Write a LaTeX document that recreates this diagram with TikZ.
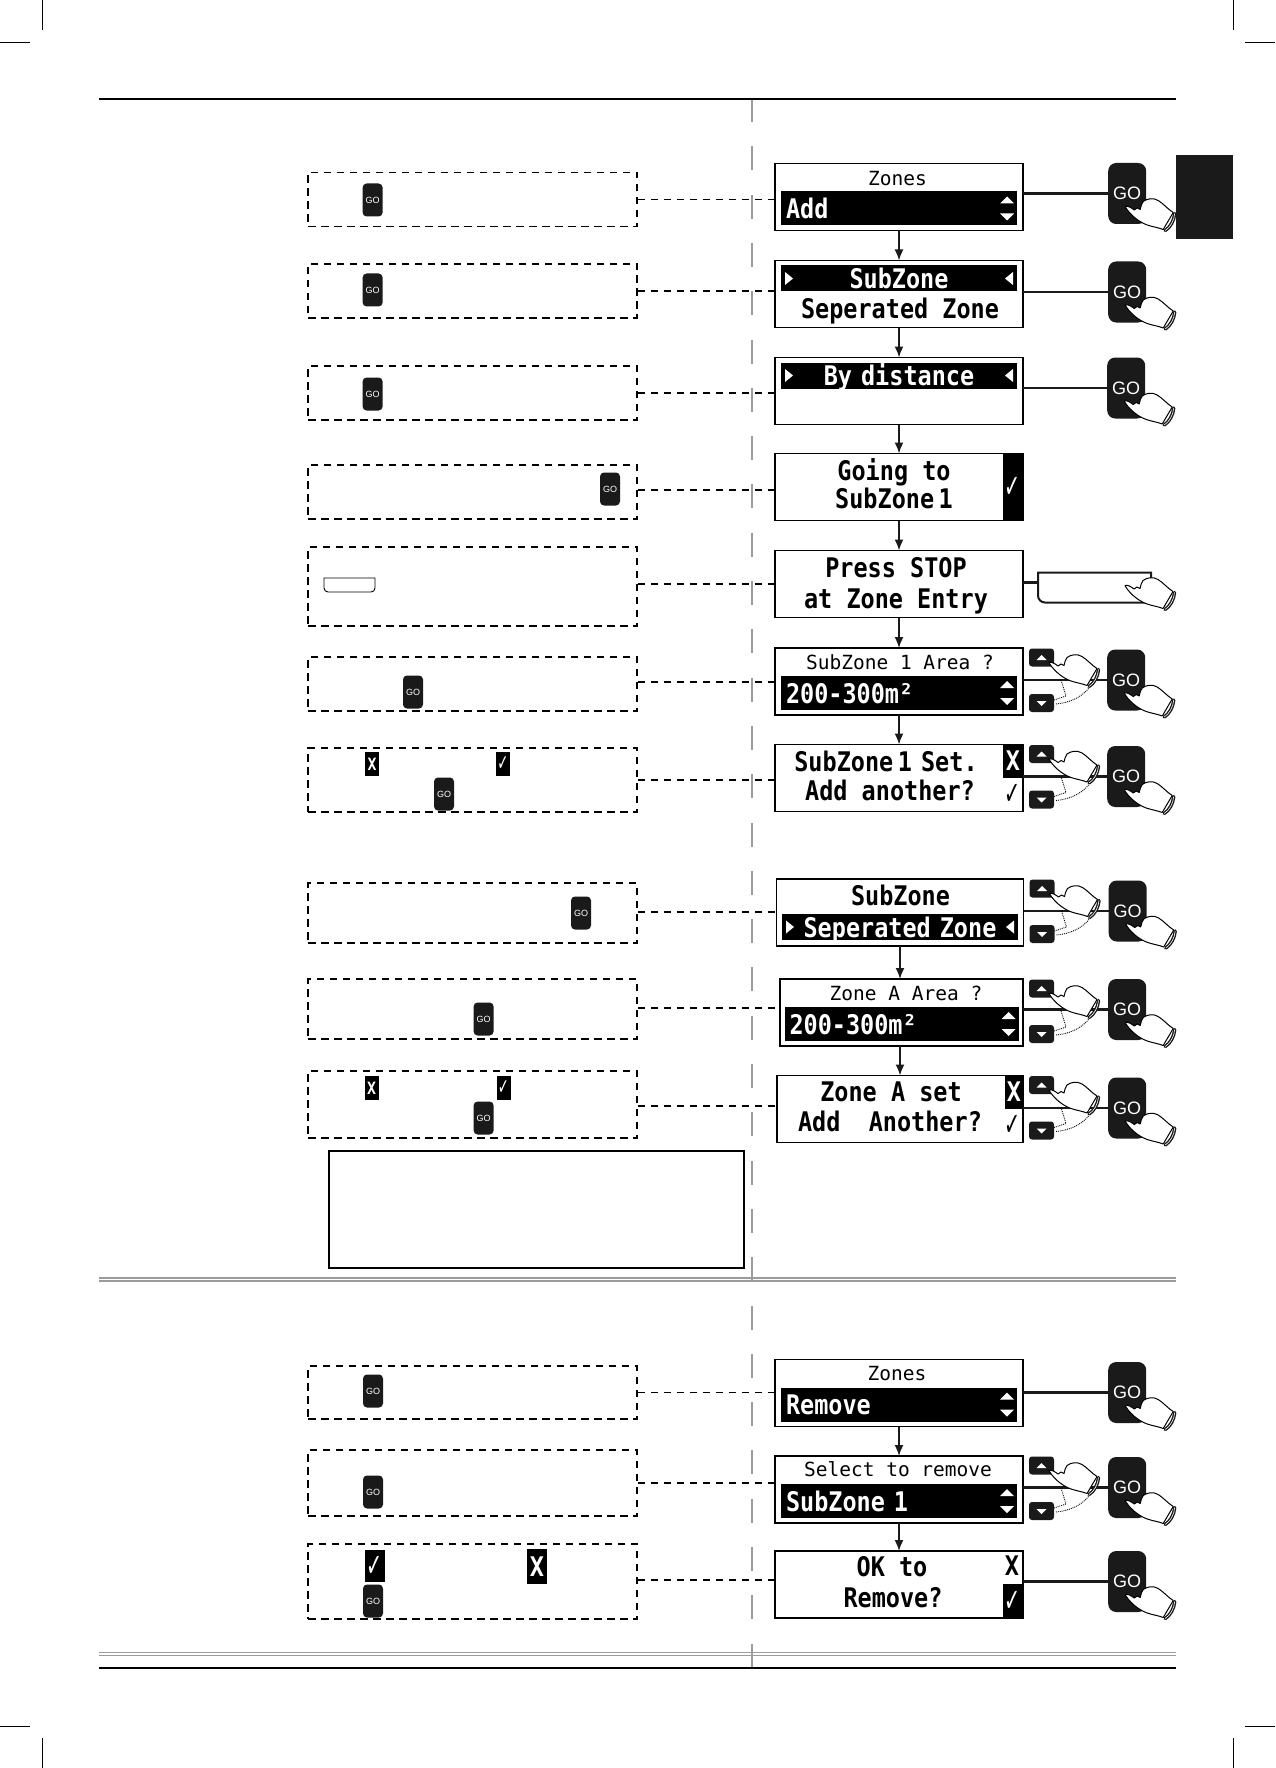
\documentclass[tikz,border=0pt]{standalone}
\usepackage{fontspec}
\usepackage{tikz}
\usetikzlibrary{arrows.meta, positioning, calc}
\newfontfamily\lcdfont[FakeStretch=0.87]{DejaVu Sans Mono}
\newfontfamily\titlefont{DejaVu Sans Mono}
\newfontfamily\tickfont[FakeStretch=0.6]{DejaVu Sans}
\newfontfamily\gofont{Liberation Sans}
\definecolor{panelblack}{RGB}{26,26,26}
\definecolor{rulegray}{RGB}{155,155,155}
\newcommand{\lcdbig}{\lcdfont\bfseries\fontsize{27}{30}\selectfont}
\newcommand{\lcdtitle}{\titlefont\fontsize{19.5}{22}\selectfont}

\begin{document}
\begin{tikzpicture}[
    x=1pt, y=-1pt,
    display/.style={rectangle, draw=black, line width=1.6pt, fill=white, inner sep=0pt, outer sep=0pt,
                    minimum width=248pt, minimum height=67pt},
    lowbar/.style={rectangle, fill=black, text=white, font=\lcdbig, inner xsep=5pt, inner ysep=0pt, outer sep=0pt,
                   text width=226pt, align=left, text height=20pt, text depth=0pt, minimum height=34pt},
    topbar/.style={lowbar, align=center, minimum height=26pt},
    lcd/.style={font=\lcdbig, anchor=mid, inner sep=0pt, yshift=-6.5pt},
    lcdsmall/.style={font=\lcdtitle, anchor=mid, inner sep=0pt, yshift=-4.5pt},
    panel/.style={rectangle, fill=black, text=white, font=\lcdbig, inner sep=0pt, outer sep=0pt,
                  minimum width=20pt, minimum height=33pt},
    tickmark/.style={font=\tickfont\fontsize{32}{32}\selectfont},
    gobtn/.style={rectangle, fill=panelblack, text=white, rounded corners=8pt, inner sep=0pt,
                  minimum width=38pt, minimum height=61pt, font=\gofont\fontsize{18}{18}\selectfont},
    gosmall/.style={rectangle, fill=panelblack, text=white, rounded corners=4pt, inner sep=0pt,
                    minimum width=20pt, minimum height=33pt, font=\gofont\fontsize{9}{9}\selectfont},
    keybtn/.style={rectangle, fill=panelblack, rounded corners=3pt, inner sep=0pt,
                   minimum width=25pt, minimum height=18pt},
    notebox/.style={rectangle, draw=black, line width=1.7pt, inner sep=0pt, minimum width=329pt,
                    dash pattern=on 7.5pt off 5.5pt},
    notemark/.style={rectangle, fill=black, text=white, inner sep=0pt, font=\lcdfont\bfseries\fontsize{17}{17}\selectfont,
                     minimum width=14pt, minimum height=24pt},
    stopshape/.style={inner sep=0pt, outer sep=0pt},
    arr/.style={-{Latex[length=11pt,width=9pt]}, line width=1.7pt, panelblack},
    link/.style={line width=2.4pt, panelblack},
    dashlink/.style={line width=1.5pt, black, dash pattern=on 7pt off 6pt},
    grayrule/.style={rulegray, line width=1.2pt},
    crop/.style={black, line width=0.8pt},
    updown/.pic={
        \fill[white] (-17,-5) -- (-10,-12) -- (-3,-5) -- cycle;
        \fill[white] (-17,5) -- (-10,12) -- (-3,5) -- cycle;
    },
    sidemarks/.pic={
        \fill[white] (-114,-6.5) -- (-106,0) -- (-114,6.5) -- cycle;
        \fill[white] (114,-6.5) -- (106,0) -- (114,6.5) -- cycle;
    },
    hand/.pic={
        \draw[line width=1pt, fill=white, line join=round]
            (0,0) .. controls (3,6) and (12,15) .. (22,18.5) .. controls (28,20.5) and (33,21) .. (38,23) -- (48,6)
            .. controls (43,3) and (38,-3) .. (33,-6) .. controls (28,-9) and (22,-8) .. (18,-5)
            .. controls (16,-3) and (16,0) .. (15,3) -- (12,1.5) -- (9,3.5) .. controls (6,1) and (2,-1) .. (0,0) -- cycle;
        \draw[line width=3.4pt, panelblack, line cap=round] (40,24) .. controls (45,21) and (49,14) .. (49.5,7);
        \draw[line width=0.6pt, white] (40,24) .. controls (45,21) and (49,14) .. (49.5,7);
    },
    keypad/.pic={
        \node[keybtn] (up) at (18.5,9.5) {};
        \node[keybtn] (down) at (18.5,55) {};
        \fill[white] (13.5,12) -- (18.5,7) -- (23.5,12) -- cycle;
        \fill[white] (13.5,53) -- (23.5,53) -- (18.5,58) -- cycle;
        \draw[line width=0.9pt, densely dotted] (38,32) -- (43,48) -- (31,52);
        \draw[line width=0.9pt, densely dotted] (33,56) .. controls (45,55) and (58,50) .. (66,40);
        \pic at (26,14.5) {hand};
    },
]
    \useasboundingbox (0,0) rectangle (1275,1768);

    \draw[crop] (42,0) -- (42,30);
    \draw[crop] (0,42.5) -- (30,42.5);
    \draw[crop] (1233,0) -- (1233,30);
    \draw[crop] (1245,42.5) -- (1275,42.5);
    \draw[crop] (42,1738) -- (42,1768);
    \draw[crop] (0,1726) -- (30,1726);
    \draw[crop] (1233,1738) -- (1233,1768);
    \draw[crop] (1245,1726) -- (1275,1726);

    \draw[rulegray, line width=1.7pt, dash pattern=on 24pt off 24.3pt] (752,98) -- (752,1668);
    \draw[black, line width=2pt] (99,99) -- (1176,99);
    \draw[black, line width=2pt] (99,1668) -- (1176,1668);
    \draw[grayrule] (99,1278) -- (1176,1278);
    \draw[grayrule, line width=1.8pt] (99,1281) -- (1176,1281);
    \draw[grayrule] (99,1652.3) -- (1176,1652.3);
    \draw[grayrule, line width=1.8pt] (99,1655.5) -- (1176,1655.5);

    \node[fill=panelblack, inner sep=0pt, minimum width=57pt, minimum height=84pt] (tab) at (1204.5,197) {};

    \node[notebox, minimum height=54pt] (n1) at (472.5,199.5) {};
    \node[notebox, minimum height=54pt] (n2) at (472.5,291) {};
    \node[notebox, minimum height=54pt] (n3) at (472.5,393) {};
    \node[notebox, minimum height=54pt] (n4) at (472.5,492) {};
    \node[notebox, minimum height=79pt] (n5) at (472.5,586.5) {};
    \node[notebox, minimum height=54pt] (n6) at (472.5,684) {};
    \node[notebox, minimum height=64pt] (n7) at (472.5,780) {};
    \node[notebox, minimum height=60pt] (n8) at (472.5,913) {};
    \node[notebox, minimum height=60pt] (n9) at (472.5,1009) {};
    \node[notebox, minimum height=67pt] (n10) at (472.5,1104.5) {};
    \node[notebox, minimum height=53pt] (n11) at (472.5,1392.5) {};
    \node[notebox, minimum height=66pt] (n12) at (472.5,1483) {};
    \node[notebox, minimum height=75pt] (n13) at (472.5,1581.5) {};
    \node[draw=black, line width=2pt, minimum width=415pt, minimum height=117pt] (warn) at (536.5,1209.5) {};

    \node[gosmall] (g1) at (372.6,200) {GO};
    \node[gosmall] (g2) at (372.6,290) {GO};
    \node[gosmall] (g3) at (372.6,394) {GO};
    \node[gosmall] (g4) at (610,489) {GO};
    \node[gosmall] (g6) at (413,692) {GO};
    \node[gosmall] (g7) at (444,794) {GO};
    \node[gosmall] (g8) at (581,913) {GO};
    \node[gosmall] (g9) at (483.6,1019) {GO};
    \node[gosmall] (g10) at (483.6,1118) {GO};
    \node[gosmall] (g11) at (373,1391) {GO};
    \node[gosmall] (g12) at (373,1492) {GO};
    \node[gosmall] (g13) at (373,1601) {GO};

    \node[stopshape, minimum width=51pt, minimum height=14pt] (smallstop) at (349.5,585) {};
    \draw[line width=0.9pt] (smallstop.north west) [rounded corners=4pt] -- (smallstop.south west)
        -- (smallstop.south east) [sharp corners] -- (smallstop.north east) -- cycle;

    \node[notemark] (x7) at (372,764) {X};
    \node[notemark] (v7) at (503,764) {\tickfont\fontsize{22}{22}\selectfont ✓};
    \node[notemark] (x10) at (371.5,1088) {X};
    \node[notemark] (v10) at (503.5,1088) {\tickfont\fontsize{22}{22}\selectfont ✓};
    \node[notemark, minimum width=20pt, minimum height=32pt, font=\tickfont\fontsize{32}{32}\selectfont] (v13) at (375,1566) {✓};
    \node[notemark, minimum width=20pt, minimum height=35pt, font=\lcdbig] (x13) at (537,1566.5) {X};

    \node[display] (d1) at (899,197) {};
    \node[display, below=30pt of d1] (d2) {};
    \node[display, below=30pt of d2] (d3) {};
    \node[display, below=29pt of d3] (d4) {};
    \node[display, below=30pt of d4] (d5) {};
    \node[display, below=30.5pt of d5] (d6) {};
    \node[display, below=29.5pt of d6] (d7) {};
    \node[display, minimum width=247pt] (d8) at (900,912.5) {};
    \node[display, minimum width=243pt, below=33pt of d8, xshift=1.5pt] (d9) {};
    \node[display, minimum width=246pt, below=29.5pt of d9, xshift=-1.5pt] (d10) {};
    \node[display] (d11) at (899,1393) {};
    \node[display, below=29.5pt of d11] (d12) {};
    \node[display, below=28pt of d12] (d13) {};

    \node[gobtn, right=85pt of d1, yshift=3.5pt] (go1) {GO};
    \node[gobtn, right=85pt of d2, yshift=2pt] (go2) {GO};
    \node[gobtn, right=84pt of d3, yshift=3pt] (go3) {GO};
    \node[gobtn, right=84pt of d6, yshift=1.5pt] (go6) {GO};
    \node[gobtn, right=84pt of d7, yshift=1.5pt] (go7) {GO};
    \node[gobtn, right=85pt of d8, yshift=1.5pt] (go8) {GO};
    \node[gobtn, right=85pt of d9, yshift=3pt] (go9) {GO};
    \node[gobtn, right=85pt of d10, yshift=1pt] (go10) {GO};
    \node[gobtn, right=85pt of d11, yshift=0.5pt] (go11) {GO};
    \node[gobtn, right=85pt of d12, yshift=2pt] (go12) {GO};
    \node[gobtn, right=85pt of d13, yshift=3pt] (go13) {GO};
    \node[stopshape, minimum width=113pt, minimum height=30pt, right=15pt of d5, yshift=-3.5pt] (stopkey) {};

    \draw[link] (d1.east |- go1.west) -- (go1.west);
    \draw[link] (d2.east |- go2.west) -- (go2.west);
    \draw[link] (d3.east |- go3.west) -- (go3.west);
    \draw[link] (d6.east |- go6.west) -- (go6.west);
    \draw[link] (d7.east |- go7.west) -- (go7.west);
    \draw[link] (d8.east |- go8.west) -- (go8.west);
    \draw[link] (d9.east |- go9.west) -- (go9.west);
    \draw[link] (d10.east |- go10.west) -- (go10.west);
    \draw[link] (d11.east |- go11.west) -- (go11.west);
    \draw[link] (d12.east |- go12.west) -- (go12.west);
    \draw[link] (d13.east |- go13.west) -- (go13.west);
    \draw[link] ([yshift=5pt]stopkey.west -| d5.east) -- ([yshift=5pt]stopkey.west);
    \draw[line width=2pt, panelblack] (stopkey.north west) [rounded corners=7pt] -- (stopkey.south west)
        [sharp corners] -- (stopkey.south east) -- (stopkey.north east) -- cycle;

    \draw[dashlink] (n1.east) -- (n1.east -| d1.west);
    \draw[dashlink] (n2.east) -- (n2.east -| d2.west);
    \draw[dashlink] (n3.east) -- (n3.east -| d3.west);
    \draw[dashlink] ([yshift=2pt]n4.east) -- ([yshift=2pt]n4.east -| d4.west);
    \draw[dashlink] ([yshift=2.5pt]n5.east) -- ([yshift=2.5pt]n5.east -| d5.west);
    \draw[dashlink] ([yshift=2pt]n6.east) -- ([yshift=2pt]n6.east -| d6.west);
    \draw[dashlink] (n7.east) -- (n7.east -| d7.west);
    \draw[dashlink] ([yshift=1pt]n8.east) -- ([yshift=1pt]n8.east -| d8.west);
    \draw[dashlink] ([yshift=1pt]n9.east) -- ([yshift=1pt]n9.east -| d9.west);
    \draw[dashlink] ([yshift=-1.5pt]n10.east) -- ([yshift=-1.5pt]n10.east -| d10.west);
    \draw[dashlink] (n11.east) -- (n11.east -| d11.west);
    \draw[dashlink] (n12.east) -- (n12.east -| d12.west);
    \draw[dashlink] ([yshift=1.5pt]n13.east) -- ([yshift=1.5pt]n13.east -| d13.west);

    \draw[arr] (d1.south) -- (d2.north);
    \draw[arr] (d2.south) -- (d3.north);
    \draw[arr] (d3.south) -- (d4.north);
    \draw[arr] (d4.south) -- (d5.north);
    \draw[arr] (d5.south) -- (d6.north);
    \draw[arr] (d6.south) -- (d7.north);
    \draw[arr] (d8.south) -- (d8.south |- d9.north);
    \draw[arr] (d8.south |- d9.south) -- (d8.south |- d10.north);
    \draw[arr] (d11.south) -- (d12.north);
    \draw[arr] (d12.south) -- (d13.north);

    \node[lcdsmall] (t1) at ([shift={(-1.5,15)}]d1.north) {Zones};
    \node[lowbar, above=5pt of d1.south] (b1) {Add};
    \pic at (b1.east) {updown};

    \node[topbar, below=5pt of d2.north] (b2) {SubZone};
    \pic at (b2.center) {sidemarks};
    \node[lcd] (t2) at ([shift={(1,49.5)}]d2.north) {Seperated Zone};

    \node[topbar, below=5pt of d3.north] (b3) {By distance};
    \pic at (b3.center) {sidemarks};

    \node[panel, minimum height=67pt, anchor=north east] (p4) at (d4.north east) {};
    \node[tickmark, text=white] (v4) at (p4.center) {✓};
    \node[lcd] (t4a) at ([shift={(-5,18.5)}]d4.north) {Going to};
    \node[lcd] (t4b) at ([shift={(-5,46.5)}]d4.north) {SubZone\,1};

    \node[lcd] (t5a) at ([shift={(-3,18.5)}]d5.north) {Press STOP};
    \node[lcd] (t5b) at ([shift={(-3,49.5)}]d5.north) {at Zone Entry};

    \node[lcdsmall] (t6) at ([shift={(1,15)}]d6.north) {SubZone 1 Area ?};
    \node[lowbar, above=5pt of d6.south] (b6) {200-300m²};
    \pic at (b6.east) {updown};

    \node[panel, anchor=north east] (p7) at (d7.north east) {X};
    \node[tickmark] (v7b) at ([shift={(-10,-17)}]d7.south east) {✓};
    \node[lcd] (t7a) at ([shift={(-13,18.5)}]d7.north) {SubZone\,1\kern-5pt\ Set.};
    \node[lcd] (t7b) at ([shift={(-9,47.5)}]d7.north) {Add another?};

    \node[lcd] (t8) at ([shift={(0.5,18)}]d8.north) {SubZone};
    \node[topbar, above=6pt of d8.south] (b8) {Seperated Zone};
    \pic at (b8.center) {sidemarks};

    \node[lcdsmall] (t9) at ([shift={(4.5,15)}]d9.north) {Zone A Area ?};
    \node[lowbar, text width=224pt, above=5pt of d9.south] (b9) {200-300m²};
    \pic at (b9.east) {updown};

    \node[panel, minimum width=18pt, anchor=north east] (p10) at (d10.north east) {X};
    \node[tickmark] (v10b) at ([shift={(-10,-17)}]d10.south east) {✓};
    \node[lcd] (t10a) at ([shift={(-9,17.5)}]d10.north) {Zone A set};
    \node[lcd] (t10b) at ([shift={(-10,47.5)}]d10.north) {Add~~Another?};

    \node[lcdsmall] (t11) at ([shift={(-2,14.5)}]d11.north) {Zones};
    \node[lowbar, above=5pt of d11.south] (b11) {Remove};
    \pic at (b11.east) {updown};

    \node[lcdsmall] (t12) at ([shift={(-1,14)}]d12.north) {Select to remove};
    \node[lowbar, above=5pt of d12.south] (b12) {SubZone 1};
    \pic at (b12.east) {updown};

    \node[lcd] (t13a) at ([shift={(-7,17)}]d13.north) {OK to};
    \node[lcd] (t13b) at ([shift={(-6,48)}]d13.north) {Remove?};
    \node[lcd] (x13b) at ([shift={(-11,16)}]d13.north east) {X};
    \node[panel, minimum height=34pt, anchor=south east] (p13) at (d13.south east) {};
    \node[tickmark, text=white] (v13b) at (p13.center) {✓};

    \pic (k6) at (d6.north east) {keypad};
    \pic (k7) at (d7.north east) {keypad};
    \pic (k8) at (d8.north east) {keypad};
    \pic (k9) at (d9.north east) {keypad};
    \pic (k10) at (d10.north east) {keypad};
    \pic (k12) at (d12.north east) {keypad};

    \pic at ([shift={(-2,13)}]go1.center) {hand};
    \pic at ([shift={(-2,13)}]go2.center) {hand};
    \pic at ([shift={(-2,13)}]go3.center) {hand};
    \pic at ([shift={(-2,13)}]go6.center) {hand};
    \pic at ([shift={(-2,13)}]go7.center) {hand};
    \pic at ([shift={(-2,13)}]go8.center) {hand};
    \pic at ([shift={(-2,13)}]go9.center) {hand};
    \pic at ([shift={(-2,13)}]go10.center) {hand};
    \pic at ([shift={(-2,13)}]go11.center) {hand};
    \pic at ([shift={(-2,13)}]go12.center) {hand};
    \pic at ([shift={(-2,13)}]go13.center) {hand};
    \pic at ([shift={(30.5,-2)}]stopkey.center) {hand};
\end{tikzpicture}
\end{document}
